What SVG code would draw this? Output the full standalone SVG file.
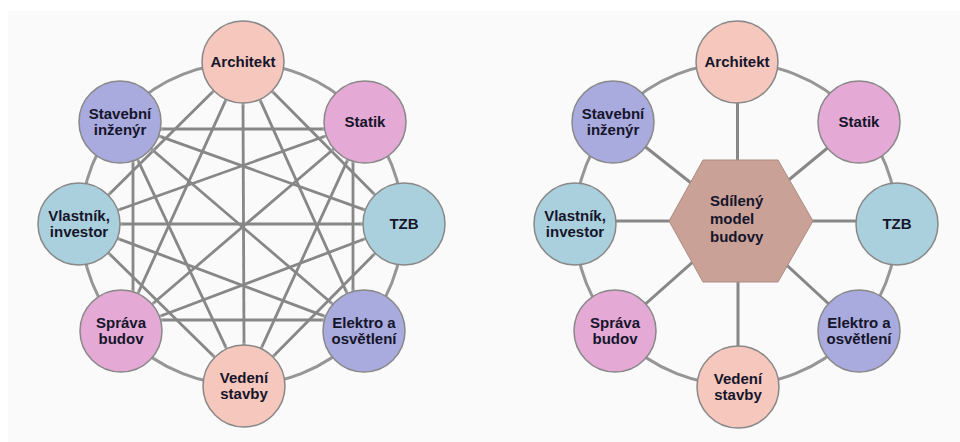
<svg xmlns="http://www.w3.org/2000/svg" width="960" height="442" viewBox="0 0 960 442">
<defs>
<style>
.ring{fill:none;stroke:#969696;stroke-width:3}
.ch{stroke:#878787;stroke-width:2.8;fill:none;marker-start:url(#ah);marker-end:url(#ah)}
.sp{stroke:#878787;stroke-width:3;fill:none}
.n{stroke:#888;stroke-width:1.5}
.peach{fill:#f6c7bd}
.pink{fill:#e4a9d5}
.peri{fill:#a9aadd}
.blue{fill:#abd0dd}
.t{font-family:"Liberation Sans",Arial,sans-serif;font-weight:bold;font-size:15px;fill:#15152b;text-anchor:middle}
.tl{font-family:"Liberation Sans",Arial,sans-serif;font-weight:bold;font-size:15px;fill:#15152b}
</style>
<marker id="ah" viewBox="0 0 8 8" refX="7.5" refY="4" markerWidth="4.5" markerHeight="4.5" markerUnits="userSpaceOnUse" orient="auto-start-reverse">
<path d="M0,1 L7.5,4 L0,7" fill="none" stroke="#b0b0b0" stroke-width="1.2"/>
</marker>
</defs>
<rect x="8" y="11" width="952" height="431" fill="#fafafa"/>

<!-- LEFT DIAGRAM -->
<g id="left-connectors">
<circle class="ring" cx="242" cy="224" r="161"/>
<line class="ch" x1="213.8" y1="90.8" x2="108.2" y2="195.2"/>
<line class="ch" x1="226.1" y1="99.3" x2="137.9" y2="293.7"/>
<line class="ch" x1="259.8" y1="99.4" x2="347.2" y2="293.6"/>
<line class="ch" x1="271.9" y1="91.1" x2="375.1" y2="194.9"/>
<line class="ch" x1="243" y1="103" x2="244" y2="345"/>
<line class="ch" x1="158.6" y1="135.9" x2="365.4" y2="210.1"/>
<line class="ch" x1="151.1" y1="148.7" x2="332.9" y2="304.3"/>
<line class="ch" x1="137.4" y1="159.1" x2="226.6" y2="348.9"/>
<line class="ch" x1="326.4" y1="135.8" x2="117.6" y2="210.2"/>
<line class="ch" x1="333.9" y1="148.7" x2="152.1" y2="304.3"/>
<line class="ch" x1="347.9" y1="159.3" x2="261.1" y2="348.7"/>
<line class="ch" x1="363" y1="224" x2="120" y2="224"/>
<line class="ch" x1="365.7" y1="238.5" x2="159.3" y2="316.5"/>
<line class="ch" x1="375.2" y1="253.2" x2="272.8" y2="356.8"/>
<line class="ch" x1="325.6" y1="316.6" x2="117.4" y2="238.4"/>
<line class="ch" x1="324.5" y1="320" x2="160.5" y2="320"/>
<line class="ch" x1="214.7" y1="357.3" x2="108.3" y2="252.7"/>
<line class="ch" x1="160.4" y1="129" x2="324.6" y2="129"/>
<line class="ch" x1="133" y1="161" x2="133" y2="292"/>
<line class="ch" x1="353" y1="161" x2="353" y2="291.5"/>
</g>
<g id="L-architekt"><circle class="n peach" cx="243" cy="62" r="41"/><text class="t" x="243" y="67">Architekt</text></g>
<g id="L-stavebni"><circle class="n peri" cx="120" cy="122" r="41"/><text class="t" x="120" y="119">Stavební</text><text class="t" x="120" y="135">inženýr</text></g>
<g id="L-statik"><circle class="n pink" cx="365" cy="122" r="41"/><text class="t" x="365" y="127">Statik</text></g>
<g id="L-vlastnik"><circle class="n blue" cx="79" cy="224" r="41"/><text class="t" x="79" y="221">Vlastník,</text><text class="t" x="79" y="237">investor</text></g>
<g id="L-tzb"><circle class="n blue" cx="404" cy="224" r="41"/><text class="t" x="404" y="229">TZB</text></g>
<g id="L-sprava"><circle class="n pink" cx="121" cy="331" r="41"/><text class="t" x="121" y="328">Správa</text><text class="t" x="121" y="344">budov</text></g>
<g id="L-elektro"><circle class="n peri" cx="364" cy="331" r="41"/><text class="t" x="364" y="328">Elektro a</text><text class="t" x="364" y="344">osvětlení</text></g>
<g id="L-vedeni"><circle class="n peach" cx="244" cy="386" r="41"/><text class="t" x="244" y="383">Vedení</text><text class="t" x="244" y="399">stavby</text></g>

<!-- RIGHT DIAGRAM -->
<g transform="translate(494,0)">
<g id="right-connectors">
<circle class="ring" cx="242" cy="224" r="161"/>
<line class="sp" x1="243.5" y1="62" x2="243.5" y2="221"/>
<line class="sp" x1="244" y1="386" x2="244" y2="221"/>
<line class="sp" x1="120" y1="122" x2="245" y2="221"/>
<line class="sp" x1="365" y1="122" x2="245" y2="221"/>
<line class="sp" x1="79" y1="221" x2="245" y2="221"/>
<line class="sp" x1="404" y1="221" x2="245" y2="221"/>
<line class="sp" x1="121" y1="331" x2="245" y2="221"/>
<line class="sp" x1="364" y1="331" x2="245" y2="221"/>
</g>
<g id="R-model"><polygon points="209,160 284,160 319,221 284,282 209,282 175,221" fill="#c9a196" stroke="#ab8c85" stroke-width="1"/><text class="tl" x="216" y="206">Sdílený</text><text class="tl" x="216" y="224">model</text><text class="tl" x="216" y="242">budovy</text></g>
<g id="R-architekt"><circle class="n peach" cx="243" cy="62" r="41"/><text class="t" x="243" y="67">Architekt</text></g>
<g id="R-stavebni"><circle class="n peri" cx="119" cy="122" r="41"/><text class="t" x="119" y="119">Stavební</text><text class="t" x="119" y="135">inženýr</text></g>
<g id="R-statik"><circle class="n pink" cx="365" cy="122" r="41"/><text class="t" x="365" y="127">Statik</text></g>
<g id="R-vlastnik"><circle class="n blue" cx="81" cy="224" r="41"/><text class="t" x="81" y="221">Vlastník,</text><text class="t" x="81" y="237">investor</text></g>
<g id="R-tzb"><circle class="n blue" cx="403" cy="224" r="41"/><text class="t" x="403" y="229">TZB</text></g>
<g id="R-sprava"><circle class="n pink" cx="121" cy="331" r="41"/><text class="t" x="121" y="328">Správa</text><text class="t" x="121" y="344">budov</text></g>
<g id="R-elektro"><circle class="n peri" cx="365" cy="331" r="41"/><text class="t" x="365" y="328">Elektro a</text><text class="t" x="365" y="344">osvětlení</text></g>
<g id="R-vedeni"><circle class="n peach" cx="244" cy="387" r="41"/><text class="t" x="244" y="384">Vedení</text><text class="t" x="244" y="400">stavby</text></g>
</g>
</svg>
